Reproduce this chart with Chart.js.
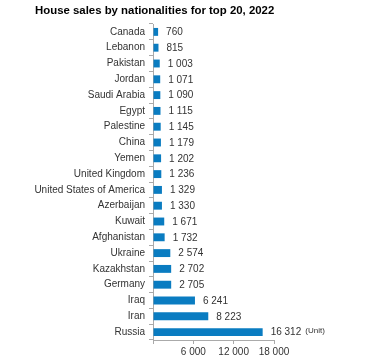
<!DOCTYPE html>
<html>
<head>
<meta charset="utf-8">
<script src="https://cdn.jsdelivr.net/npm/chart.js@4"></script>
<style>
  html, body { margin: 0; padding: 0; background: #fff; }
  #wrap { width: 382px; height: 360px; position: relative; }
</style>
</head>
<body>
<div id="wrap"><canvas id="myChart" width="382" height="360"></canvas></div>
<script>
// data
var countries = ["Canada", "Lebanon", "Pakistan", "Jordan", "Saudi Arabia", "Egypt", "Palestine", "China", "Yemen",
  "United Kingdom", "United States of America", "Azerbaijan", "Kuwait", "Afghanistan", "Ukraine", "Kazakhstan",
  "Germany", "Iraq", "Iran", "Russia"];
var sales = [760, 815, 1003, 1071, 1090, 1115, 1145, 1179, 1202, 1236, 1329, 1330, 1671, 1732, 2574, 2702, 2705, 6241, 8223, 16312];
var xTicks = [0, 6000, 12000, 18000];

var titleText = "House sales by nationalities for top 20, 2022";
var FONT = "'Liberation Sans', Arial, sans-serif";

function fmt(v) {
  // thousands with a space
  return String(v).replace(/\B(?=(\d{3})+(?!\d))/g, " ");
}

var labelPlugin = {
  id: "labels",
  afterDatasetsDraw: function(chart) {
    var ctx = chart.ctx;
    var meta = chart.getDatasetMeta(0);
    ctx.save();
    ctx.fillStyle = "#333";
    ctx.font = "10px " + FONT;
    ctx.textBaseline = "middle";
    ctx.textAlign = "left";
    meta.data.forEach(function(bar, i) {
      var txt = fmt(sales[i]);
      ctx.fillText(txt, bar.x + 8, bar.y + 0.5);
      if (i == sales.length - 1) {
        var w = ctx.measureText(txt).width;
        ctx.font = "8px " + FONT;
        ctx.fillText("(Unit)", bar.x + 8 + w + 4, bar.y - 1.5);
        ctx.font = "10px " + FONT;
      }
    });
    // title
    ctx.fillStyle = "#000";
    ctx.font = "bold 11.4px " + FONT;
    ctx.textBaseline = "alphabetic";
    ctx.fillText(titleText, 35, 14);
    ctx.restore();
  }
};

var ctx = document.getElementById("myChart").getContext("2d");
var myChart = new Chart(ctx, {
  type: "bar",
  data: {
    labels: countries,
    datasets: [{
      data: sales,
      backgroundColor: "#0a7cc1",
      barPercentage: 0.5,
      categoryPercentage: 1
    }]
  },
  options: {
    indexAxis: "y",
    responsive: false,
    animation: false,
    devicePixelRatio: 1,
    layout: { padding: { top: 24, right: 108, bottom: 0, left: 0 } },
    plugins: {
      legend: { display: false },
      tooltip: { enabled: false }
    },
    scales: {
      x: {
        min: 0,
        max: 18000,
        afterBuildTicks: function(scale) {
          scale.ticks = xTicks.map(function(v) { return { value: v }; });
        },
        afterFit: function(scale) { scale.height = 20; },
        border: { color: "#aaa", width: 1 },
        grid: { drawOnChartArea: false, drawTicks: true, tickLength: 4, color: "#aaa" },
        ticks: {
          color: "#333",
          font: { family: FONT, size: 10 },
          padding: 2,
          maxRotation: 0,
          callback: function(v) { return v === 0 ? "" : fmt(v); }
        }
      },
      y: {
        afterFit: function(scale) { scale.width = 153; },
        border: { color: "#aaa", width: 1 },
        grid: { drawOnChartArea: false, drawTicks: true, tickLength: 4, color: "#aaa", offset: true },
        ticks: {
          color: "#333",
          font: { family: FONT, size: 10 },
          padding: 4,
          autoSkip: false
        }
      }
    }
  },
  plugins: [labelPlugin]
});
</script>
</body>
</html>
